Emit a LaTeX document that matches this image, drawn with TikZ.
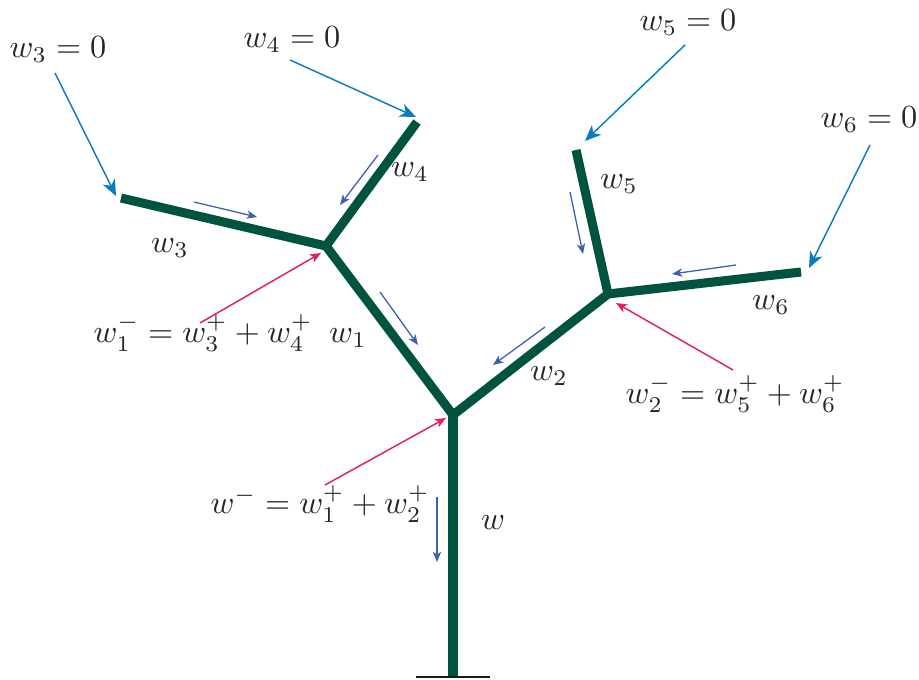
\documentclass[tikz,border=0pt]{standalone}
\usetikzlibrary{arrows.meta}
\definecolor{treegreen}{HTML}{00533F}
\definecolor{bcblue}{HTML}{0A7BC2}
\definecolor{flowblue}{HTML}{3F5FB0}
\definecolor{sumred}{HTML}{E0205A}
\tikzset{
  branch/.style={line width=2.8pt, draw=treegreen, line cap=butt},
  bcarrow/.style={draw=bcblue, line width=0.45pt, -{Stealth[length=5pt,width=4.2pt,inset=1.5pt]}},
  flowarrow/.style={draw=flowblue, line width=0.4pt, -{Stealth[length=3.2pt,width=2.6pt,inset=0.9pt]}},
  sumarrow/.style={draw=sumred, line width=0.45pt, -{Stealth[length=3.4pt,width=2.8pt,inset=0.9pt]}},
  lbl/.style={inner sep=0pt, text=black!85}
}
\begin{document}
\begin{tikzpicture}[x=0.31pt,y=-0.31pt]
\useasboundingbox (0,0) rectangle (919,679);
% tree points
\coordinate (root) at (453,676);
\coordinate (J0) at (453,415);
\coordinate (J1) at (326,246);
\coordinate (J2) at (608,294);
\coordinate (E3) at (121,198);
\coordinate (E4) at (417,122);
\coordinate (E5) at (576,150);
\coordinate (E6) at (801,272);
\coordinate (gL) at (416,677);
\coordinate (gR) at (490,677);
% ground
\draw[line width=0.7pt, black!90] (gL) -- (gR);
% branches
\draw[branch] (root) -- (J0);
\draw[branch, line join=miter] (J1) -- (J0) -- (J2);
\draw[branch, line join=miter] (E3) -- (J1) -- (E4);
\draw[branch, line join=miter] (E5) -- (J2) -- (E6);
% boundary labels
\node[lbl] (bc3) at (58,50) {$w_3=0$};
\node[lbl] (bc4) at (292,40) {$w_4=0$};
\node[lbl] (bc5) at (688,23) {$w_5=0$};
\node[lbl] (bc6) at (869,120) {$w_6=0$};
\coordinate (bc3s) at (55,73);
\coordinate (bc3t) at (116,196);
\coordinate (bc4s) at (290,60);
\coordinate (bc4t) at (416,117);
\coordinate (bc5s) at (685,45);
\coordinate (bc5t) at (585,141);
\coordinate (bc6s) at (870,145);
\coordinate (bc6t) at (809,268);
\draw[bcarrow] (bc3s) -- (bc3t);
\draw[bcarrow] (bc4s) -- (bc4t);
\draw[bcarrow] (bc5s) -- (bc5t);
\draw[bcarrow] (bc6s) -- (bc6t);
% branch labels
\node[lbl] (l3) at (170,248) {$w_3$};
\node[lbl] (l4) at (410,172) {$w_4$};
\node[lbl] (l5) at (619,184) {$w_5$};
\node[lbl] (l6) at (771,305) {$w_6$};
\node[lbl] (l1) at (348,338) {$w_1$};
\node[lbl] (l2) at (549,376) {$w_2$};
\node[lbl] (l0) at (493,523) {$w$};
% flow arrows
\coordinate (f3s) at (194,202); \coordinate (f3t) at (257,217);
\coordinate (f4s) at (378,155); \coordinate (f4t) at (340,205);
\coordinate (f1s) at (380,292); \coordinate (f1t) at (418,345);
\coordinate (f2s) at (545,327); \coordinate (f2t) at (493,365);
\coordinate (f5s) at (570,192); \coordinate (f5t) at (583,254);
\coordinate (f6s) at (736,265); \coordinate (f6t) at (672,274);
\coordinate (f0s) at (437,497); \coordinate (f0t) at (437,562);
\draw[flowarrow] (f3s) -- (f3t);
\draw[flowarrow] (f4s) -- (f4t);
\draw[flowarrow] (f1s) -- (f1t);
\draw[flowarrow] (f2s) -- (f2t);
\draw[flowarrow] (f5s) -- (f5t);
\draw[flowarrow] (f6s) -- (f6t);
\draw[flowarrow] (f0s) -- (f0t);
% sum labels
\node[lbl] (s1) at (203,333) {$w_1^- = w_3^+ + w_4^+$};
\node[lbl] (s0) at (320,504) {$w^- = w_1^+ + w_2^+$};
\node[lbl] (s2) at (735,394) {$w_2^- = w_5^+ + w_6^+$};
\coordinate (r1s) at (200,323); \coordinate (r1t) at (321,253);
\coordinate (r0s) at (325,485); \coordinate (r0t) at (446,418);
\coordinate (r2s) at (733,370); \coordinate (r2t) at (616,303);
\draw[sumarrow] (r1s) -- (r1t);
\draw[sumarrow] (r0s) -- (r0t);
\draw[sumarrow] (r2s) -- (r2t);
\end{tikzpicture}
\end{document}
